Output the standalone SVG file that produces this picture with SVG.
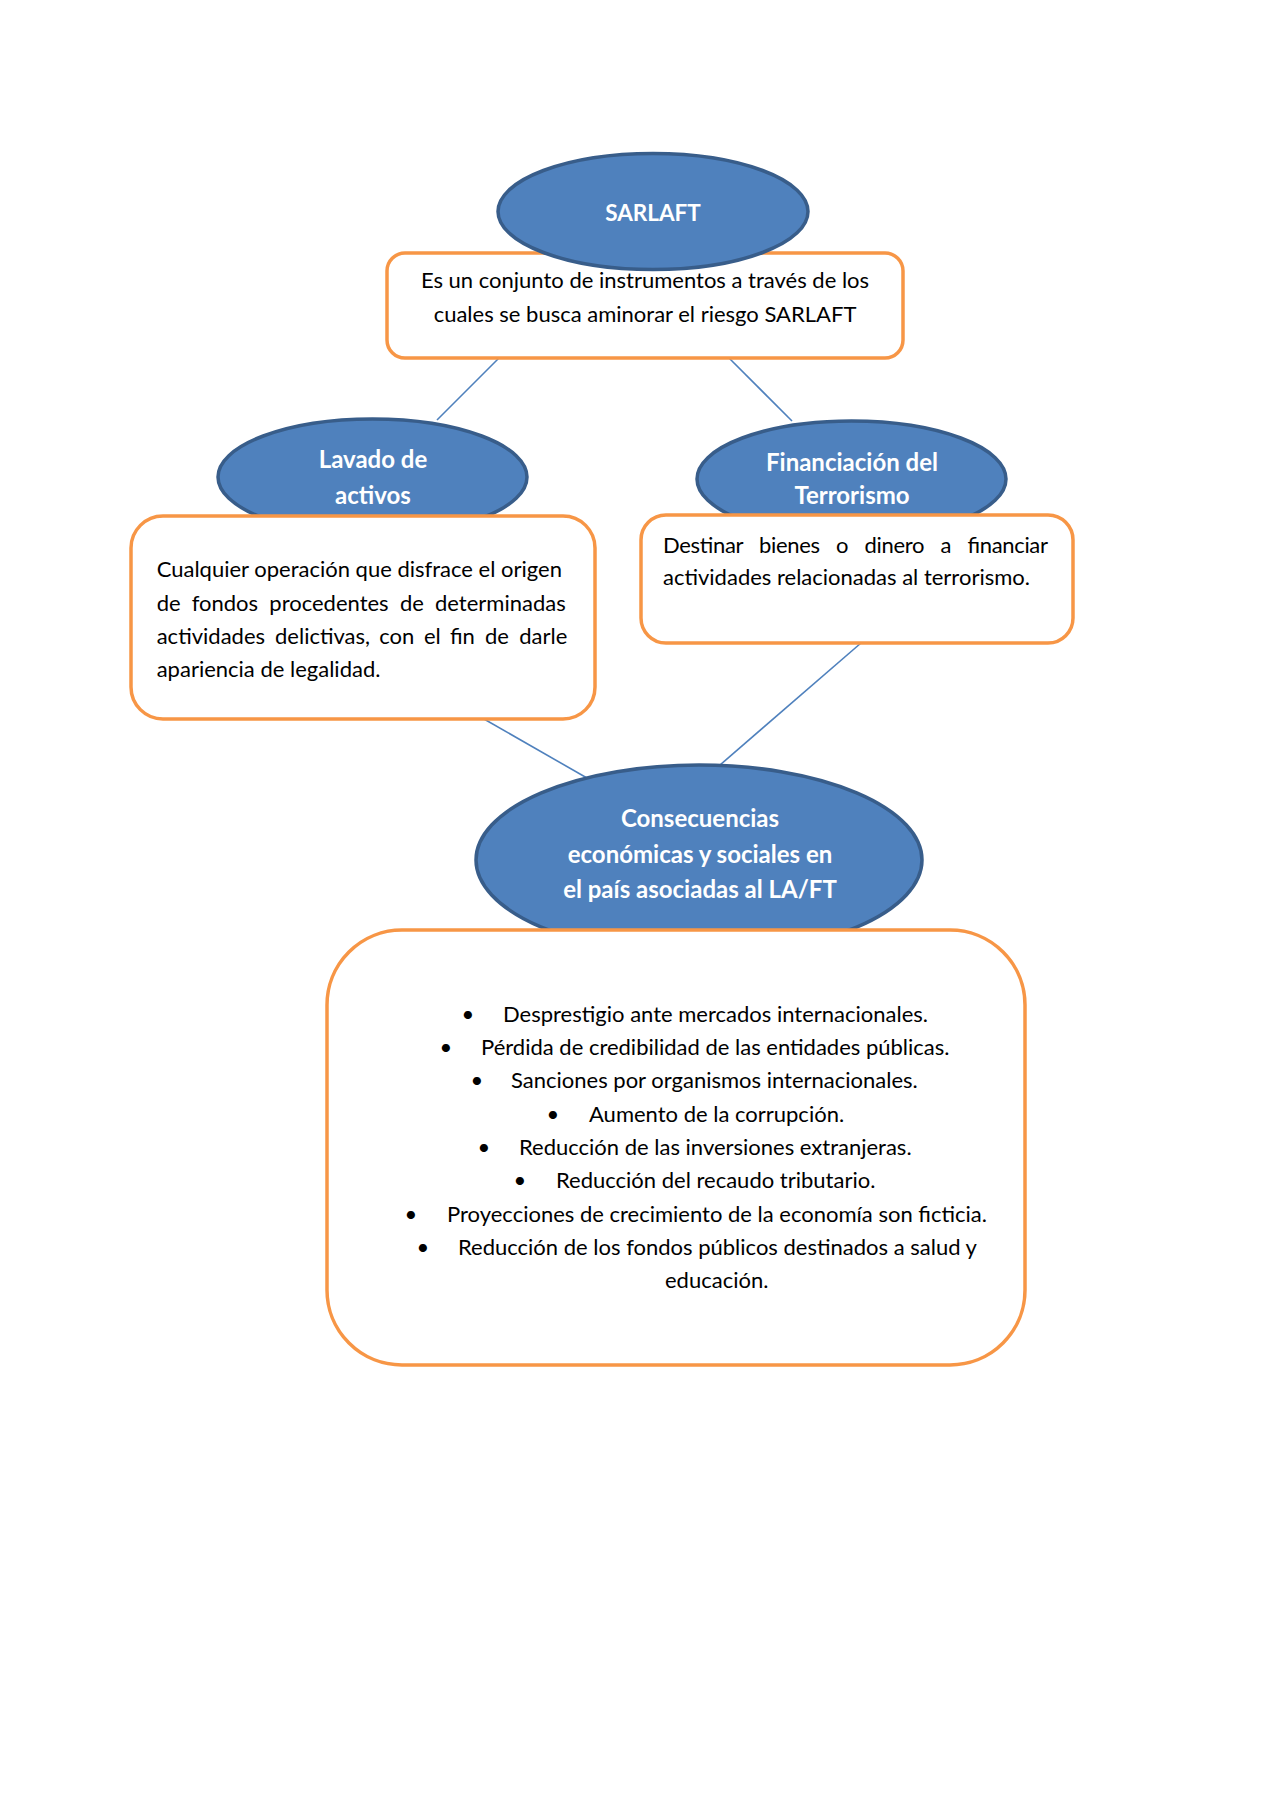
<svg xmlns="http://www.w3.org/2000/svg" width="1280" height="1811" viewBox="0 0 1280 1811">
<style>
.ell{fill:#4F81BD;stroke:#385D8A;stroke-width:3.5}
.box{fill:#FFFFFF;stroke:#F79646;stroke-width:3.5}
.lbl{font-family:Lato,"Liberation Sans",sans-serif;font-weight:bold;font-size:24px;fill:#FFFFFF;text-anchor:middle}
.txt{font-family:Lato,"Liberation Sans",sans-serif;font-size:22px;fill:#000000}
.c{text-anchor:middle}
.con line{stroke:#4F81BD;stroke-width:1.6}
</style>
<rect width="1280" height="1811" fill="#FFFFFF"/>
<g id="connectors" class="con">
<line x1="500" y1="357" x2="437" y2="420"/>
<line x1="728" y1="357" x2="792" y2="421"/>
<line x1="484" y1="719" x2="587" y2="778"/>
<line x1="861" y1="643" x2="720" y2="765"/>
</g>
<g id="n-def">
<rect class="box" x="387" y="253" width="516" height="105" rx="18"/>
<text class="txt c" x="645" y="288">Es un conjunto de instrumentos a través de los</text>
<text class="txt c" x="645" y="322">cuales se busca aminorar el riesgo SARLAFT</text>
</g>
<g id="n-sarlaft">
<ellipse class="ell" cx="653" cy="211.5" rx="155" ry="58"/>
<text class="lbl" x="653" y="221" style="font-size:22.5px">SARLAFT</text>
</g>
<g id="n-lavado">
<ellipse class="ell" cx="372.5" cy="477" rx="154.5" ry="58"/>
<text class="lbl" x="373" y="468">Lavado de</text>
<text class="lbl" x="373" y="504">activos</text>
</g>
<g id="n-lavado-def">
<rect class="box" x="131" y="516" width="464" height="203" rx="32"/>
<text class="txt" x="156.7" y="577">Cualquier operación que disfrace el origen</text>
<text class="txt"><tspan x="156.7" y="611">de</tspan><tspan x="191.7">fondos</tspan><tspan x="269.3">procedentes</tspan><tspan x="400">de</tspan><tspan x="435">determinadas</tspan></text>
<text class="txt"><tspan x="156.7" y="644">actividades</tspan><tspan x="275">delictivas,</tspan><tspan x="379.3">con</tspan><tspan x="424">el</tspan><tspan x="450">fin</tspan><tspan x="485">de</tspan><tspan x="519.3">darle</tspan></text>
<text class="txt" x="156.7" y="677">apariencia de legalidad.</text>
</g>
<g id="n-financ">
<ellipse class="ell" cx="851.5" cy="479" rx="154.5" ry="58"/>
<text class="lbl" x="852" y="471">Financiación del</text>
<text class="lbl" x="852" y="504">Terrorismo</text>
</g>
<g id="n-financ-def">
<rect class="box" x="641" y="515" width="432" height="128" rx="25"/>
<text class="txt" x="663" y="553" word-spacing="11" textLength="385" lengthAdjust="spacing">Destinar bienes o dinero a financiar</text>
<text class="txt" x="663" y="585">actividades relacionadas al terrorismo.</text>
</g>
<g id="n-consec">
<ellipse class="ell" cx="699" cy="860" rx="223" ry="95"/>
<text class="lbl" x="700" y="827">Consecuencias</text>
<text class="lbl" x="700" y="863">económicas y sociales en</text>
<text class="lbl" x="700" y="898">el país asociadas al LA/FT</text>
</g>
<g id="n-consec-list">
<rect class="box" x="327" y="930" width="698" height="435" rx="75"/>
<g class="txt c">
<text x="468" y="1022">•</text>
<text x="446" y="1055">•</text>
<text x="477" y="1088">•</text>
<text x="553" y="1122">•</text>
<text x="484" y="1155">•</text>
<text x="520" y="1188">•</text>
<text x="411" y="1222">•</text>
<text x="423" y="1255">•</text>
</g>
<text class="txt" x="503" y="1022">Desprestigio ante mercados internacionales.</text>
<text class="txt" x="481" y="1055">Pérdida de credibilidad de las entidades públicas.</text>
<text class="txt" x="511" y="1088">Sanciones por organismos internacionales.</text>
<text class="txt" x="589" y="1122">Aumento de la corrupción.</text>
<text class="txt" x="519" y="1155">Reducción de las inversiones extranjeras.</text>
<text class="txt" x="556" y="1188">Reducción del recaudo tributario.</text>
<text class="txt" x="447" y="1222">Proyecciones de crecimiento de la economía son ficticia.</text>
<text class="txt" x="458" y="1255">Reducción de los fondos públicos destinados a salud y</text>
<text class="txt" x="665" y="1288">educación.</text>
</g>
</svg>
